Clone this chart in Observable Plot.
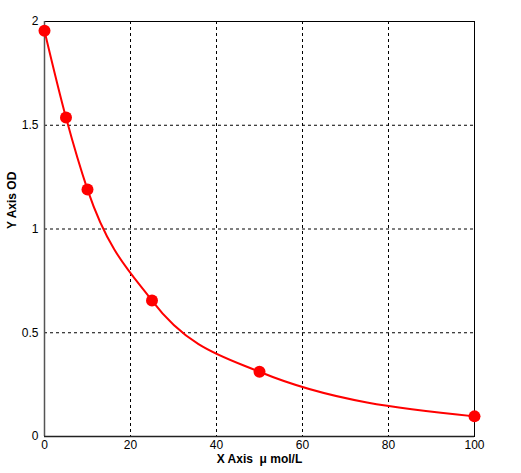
<!DOCTYPE html>
<html>
<head>
<meta charset="utf-8">
<script src="https://cdn.jsdelivr.net/npm/d3@7"></script>
<script src="https://cdn.jsdelivr.net/npm/@observablehq/plot@0.6"></script>
<style>
  html, body { margin: 0; padding: 0; background: #fff; }
  #chart svg { display: block; }
</style>
</head>
<body>
<div id="chart"></div>
<script>
const concentration = [0, 5, 10, 25, 50, 100];
const od = [1.955, 1.537, 1.19, 0.655, 0.312, 0.097];
const xTicks = [0, 20, 40, 60, 80, 100];
const yTicks = [0, 0.5, 1, 1.5, 2];
const xGrid = [20, 40, 60, 80];
const yGrid = [0.5, 1, 1.5];
const xLabel = "X Axis  \u03BC mol/L";
const yLabel = "Y Axis OD";

const data = concentration.map((c, i) => ({x: c, y: od[i]}));

const chart = Plot.plot({
  width: 521,
  height: 473,
  marginLeft: 44,
  marginRight: 47,
  marginTop: 21,
  marginBottom: 37,
  style: {fontFamily: "'Liberation Sans', Arial, sans-serif", fontSize: "12px", background: "#fff", color: "#000"},
  x: {domain: [0, 100]},
  y: {domain: [0, 2]},
  marks: [
    Plot.ruleX(xGrid, {stroke: "#000", strokeDasharray: "3,3", strokeWidth: 1}),
    Plot.ruleY(yGrid, {stroke: "#000", strokeDasharray: "3,3", strokeWidth: 1}),
    Plot.frame({stroke: "#000", strokeWidth: 1}),
    Plot.ruleX([0], {stroke: "#555", strokeWidth: 1.5}),
    Plot.ruleY([0], {stroke: "#222", strokeWidth: 1.5}),
    Plot.axisX({ticks: xTicks, tickSize: 0, tickPadding: 4, label: null, fontSize: 12, tickFormat: d => String(d)}),
    Plot.axisY({ticks: yTicks, tickSize: 0, tickPadding: 6, label: null, fontSize: 12, tickFormat: d => String(d)}),
    Plot.text([xLabel], {frameAnchor: "bottom", dy: 26, fontWeight: "bold", fontSize: 12, fill: "#000"}),
    Plot.text([yLabel], {frameAnchor: "left", dx: -32, rotate: -90, fontWeight: "bold", fontSize: 12, fill: "#000"}),
    Plot.line(data, {x: "x", y: "y", stroke: "#ff0000", strokeWidth: 2, curve: "monotone-x"}),
    Plot.dot(data, {x: "x", y: "y", r: 6, fill: "#ff0000", stroke: "none"})
  ]
});
document.getElementById("chart").appendChild(chart);
</script>
</body>
</html>
